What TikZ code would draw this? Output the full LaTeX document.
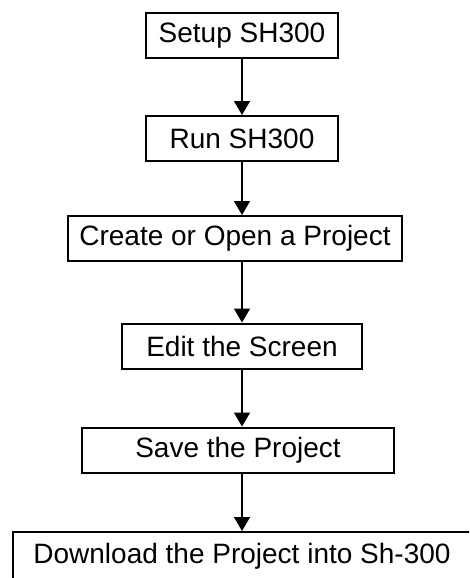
\documentclass[tikz,border=0pt]{standalone}
\usepackage{fontspec}
\setmainfont{Liberation Sans}
\usepackage{tikz}
\usetikzlibrary{arrows.meta}
\usepackage{xcolor}

\begin{document}
\begin{tikzpicture}[x=1pt,y=-1pt,
		stepbox/.style={rectangle,draw,line width=2pt,minimum height=45pt,inner sep=0pt,font=\fontsize{28}{34}\selectfont},
		>={Triangle[length=14pt,width=16pt]}]
				\clip (0,0) rectangle (469,578);
				\useasboundingbox (0,0) rectangle (469,578);
				
				\node(setup) at (242,35.5)[stepbox,minimum width=192pt]{Setup SH300};
				\node(run) at (242,138.5)[stepbox,minimum width=192pt]{Run SH300};
				\node(create) at (235,238.5)[stepbox,minimum width=334pt]{Create or Open a Project};
				\node(edit) at (242,346)[stepbox,minimum width=240pt]{Edit the Screen};
				\node(save) at (238,450)[stepbox,minimum width=312pt]{Save the Project};
				\node(download) at (242,556)[stepbox,minimum width=458pt,minimum height=48pt]{Download the Project into Sh-300};
				
				\draw[->, line width=1.5pt] (setup) to (run);
				\draw[->, line width=1.5pt] (run.south) to (run.south |- create.north);
				\draw[->, line width=1.5pt] (edit.north |- create.south) to (edit.north);
				\draw[->, line width=1.5pt] (edit.south) to (edit.south |- save.north);
				\draw[->, line width=1.5pt] (download.north |- save.south) to (download.north);
				
			\end{tikzpicture}
\end{document}
